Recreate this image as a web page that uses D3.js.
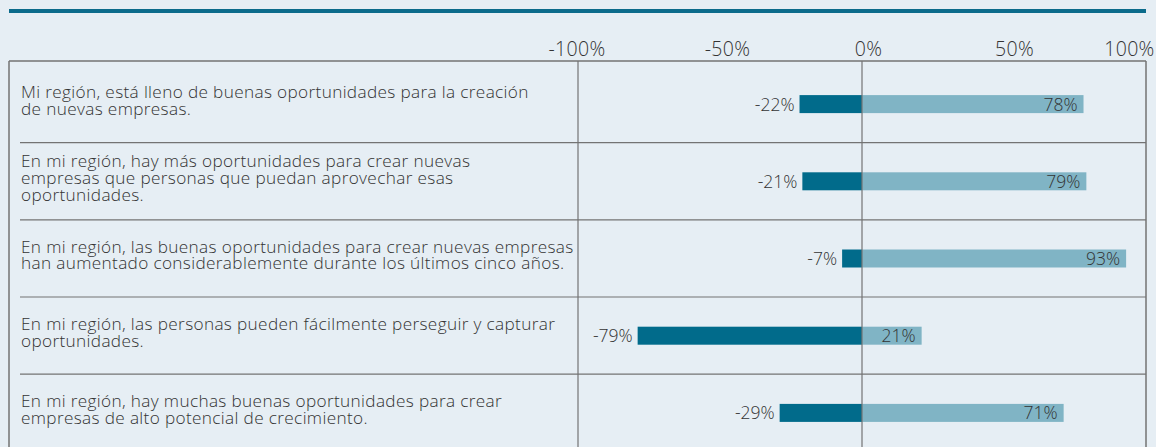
<!DOCTYPE html>
<html>
<head>
<meta charset="utf-8">
<script src="https://cdn.jsdelivr.net/npm/d3@7/dist/d3.min.js"></script>
<style>
  html, body { margin: 0; padding: 0; background: #e6eef4; }
  svg { display: block; }
  text { font-family: "Open Sans", Lato, sans-serif; font-weight: 300; fill: #333; }
</style>
</head>
<body>
<svg id="chart" width="1156" height="447"></svg>
<script>
// Statements (line breaks as laid out in the label column)
const categories = [
  "Mi región, está lleno de buenas oportunidades para la creación\nde nuevas empresas.",
  "En mi región, hay más oportunidades para crear nuevas\nempresas que personas que puedan aprovechar esas\noportunidades.",
  "En mi región, las buenas oportunidades para crear nuevas empresas\nhan aumentado considerablemente durante los últimos cinco años.",
  "En mi región, las personas pueden fácilmente perseguir y capturar\noportunidades.",
  "En mi región, hay muchas buenas oportunidades para crear\nempresas de alto potencial de crecimiento."
];
// Share disagreeing (negative side) and agreeing (positive side), in %
const disagree = [-22, -21, -7, -79, -29];
const agree = [78, 79, 93, 21, 71];
// Axis ticks
const tickValues = [-100, -50, 0, 50, 100];
const tickLabels = ["-100%", "-50%", "0%", "50%", "100%"];

const svg = d3.select("#chart");

const left = 9, right = 1146, tableTop = 61, bottom = 452;
const divider = 578;

const x = d3.scaleLinear().domain([-100, 100]).range([divider, right]);
const y = d3.scaleBand().domain(d3.range(categories.length)).range([65.5, 451.5]).padding(0);
const barH = 18;

const darkBlue = "#016b8b";
const lightBlue = "#80b4c5";
const gridGray = "#737373";

// heading rule
svg.append("rect")
  .attr("x", 9).attr("y", 9).attr("width", right - 9).attr("height", 4)
  .attr("fill", "#0b6b8b");

// axis labels on top
const tickShift = [-1.5, 7, 6, 10, -17];
const axis = d3.axisTop(x)
  .tickValues(tickValues)
  .tickSize(0)
  .tickPadding(0)
  .tickFormat((d, i) => tickLabels[i]);
const gAxis = svg.append("g")
  .attr("transform", `translate(0,${55.5})`)
  .call(axis);
gAxis.select(".domain").remove();
gAxis.selectAll(".tick text")
  .attr("dy", 0)
  .attr("x", (d, i) => tickShift[i])
  .style("font-family", "'Open Sans', Lato, sans-serif")
  .style("font-weight", 300)
  .style("font-size", "19.5px")
  .style("letter-spacing", "0.3px")
  .style("fill", "#333");

// row separators
svg.selectAll("line.row")
  .data(d3.range(1, categories.length))
  .join("line")
  .attr("class", "row")
  .attr("x1", 20).attr("x2", right)
  .attr("y1", i => y(i) - 0.5 * (y.step() - 77)).attr("y2", i => y(i) - 0.5 * (y.step() - 77))
  .attr("stroke", gridGray).attr("stroke-width", 1.2);

// bars
const rows = svg.selectAll("g.rowg")
  .data(categories.map((c, i) => ({ c, i, neg: disagree[i], pos: agree[i] })))
  .join("g").attr("class", "rowg");

const cy = d => y(d.i) + y.bandwidth() / 2;

rows.append("rect")
  .attr("x", d => x(d.neg)).attr("width", d => x(0) - x(d.neg))
  .attr("y", d => cy(d) - barH / 2).attr("height", barH)
  .attr("fill", darkBlue);

rows.append("rect")
  .attr("x", x(0)).attr("width", d => x(d.pos) - x(0))
  .attr("y", d => cy(d) - barH / 2).attr("height", barH)
  .attr("fill", lightBlue);

// value labels
rows.append("text")
  .attr("x", d => x(d.neg) - 5)
  .attr("y", d => cy(d) + 6.5)
  .attr("text-anchor", "end")
  .style("font-size", "17.5px")
  .text(d => d.neg + "%");

rows.append("text")
  .attr("x", d => x(d.pos) - 6)
  .attr("y", d => cy(d) + 6.5)
  .attr("text-anchor", "end")
  .style("font-size", "17.5px")
  .text(d => d.pos + "%");

// statement text
const lineGap = 16.7;
rows.append("text")
  .attr("x", 21)
  .style("font-size", "17.2px")
  .style("letter-spacing", "0.35px")
  .each(function (d) {
    const lines = d.c.split("\n");
    const t = d3.select(this);
    lines.forEach((ln, k) => {
      t.append("tspan")
        .attr("x", 21)
        .attr("y", cy(d) + 2.6 + (k - (lines.length - 1) / 2) * lineGap)
        .text(ln);
    });
  });

// table frame and the zero line
const frame = svg.append("g").attr("stroke", gridGray).attr("fill", "none");
frame.append("line").attr("x1", left).attr("x2", right).attr("y1", tableTop).attr("y2", tableTop).attr("stroke-width", 1.5);
frame.append("line").attr("x1", left).attr("x2", left).attr("y1", tableTop).attr("y2", bottom).attr("stroke-width", 1.5);
frame.append("line").attr("x1", right).attr("x2", right).attr("y1", tableTop).attr("y2", bottom).attr("stroke-width", 1.5);
frame.append("line").attr("x1", divider).attr("x2", divider).attr("y1", tableTop).attr("y2", bottom).attr("stroke-width", 1.2);
frame.append("line").attr("x1", x(0)).attr("x2", x(0)).attr("y1", tableTop).attr("y2", bottom).attr("stroke-width", 1.2);
</script>
</body>
</html>
